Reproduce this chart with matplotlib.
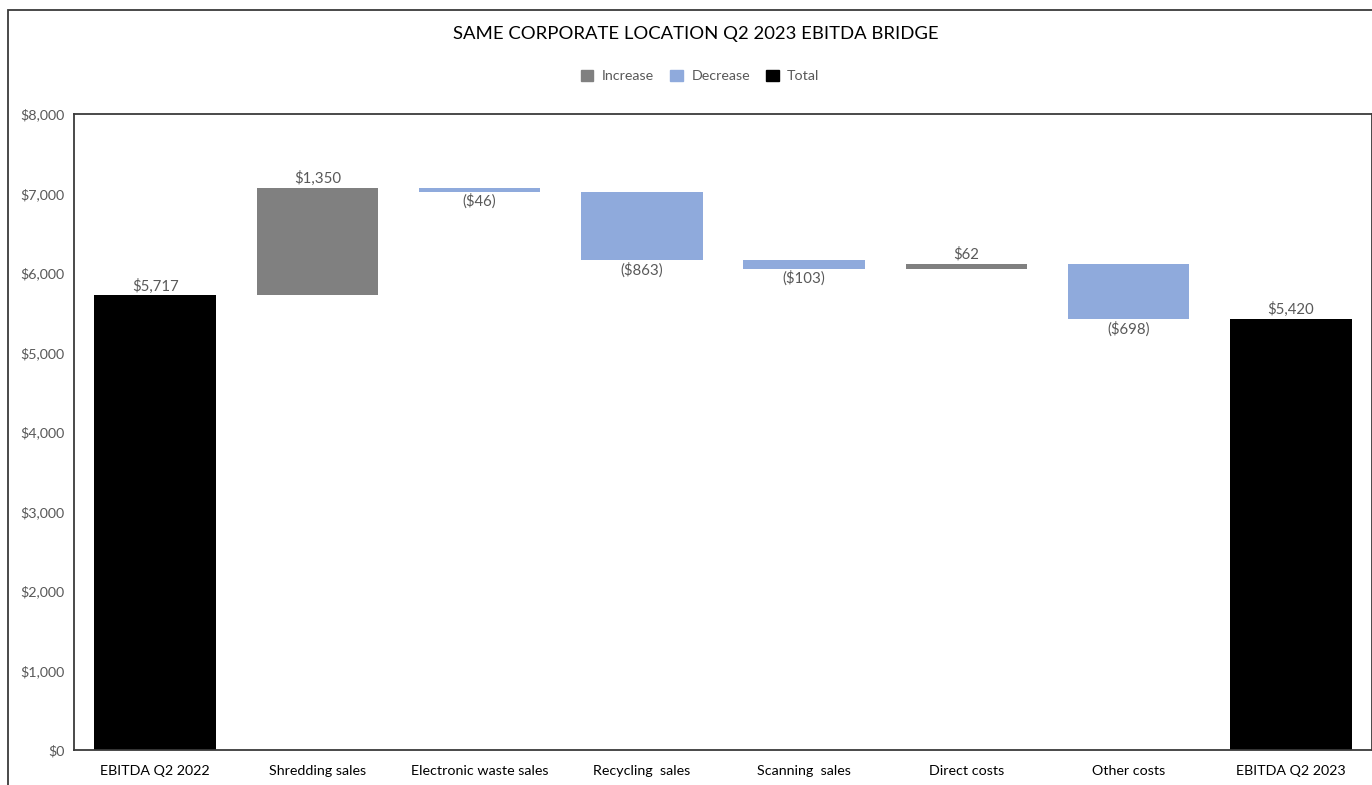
import numpy as np
import matplotlib.pyplot as plt
from matplotlib.patches import Rectangle, Patch
from matplotlib.ticker import FuncFormatter

plt.rcParams['font.family'] = ['Lato', 'DejaVu Sans']

categories = ['EBITDA Q2 2022', 'Shredding sales', 'Electronic waste sales',
              'Recycling  sales', 'Scanning  sales', 'Direct costs',
              'Other costs', 'EBITDA Q2 2023']
changes = [5717, 1350, -46, -863, -103, 62, -698, 5420]
kinds = ['total', 'inc', 'dec', 'dec', 'dec', 'inc', 'dec', 'total']

colors = {'inc': '#808080', 'dec': '#8faadc', 'total': '#000000'}
txt = '#595959'

# waterfall bottoms / heights
bottoms, heights = [], []
running = 0
for v, k in zip(changes, kinds):
    if k == 'total':
        bottoms.append(0)
        heights.append(v)
        running = v
    else:
        if v >= 0:
            bottoms.append(running)
        else:
            bottoms.append(running + v)
        heights.append(abs(v))
        running += v


def money(v):
    s = '${:,.0f}'.format(abs(v))
    return '(' + s + ')' if v < 0 else s


fig = plt.figure(figsize=(13.72, 7.85), dpi=100)
ax = fig.add_axes([74 / 1372, 1 - 750 / 785, 1 - 74 / 1372, (750 - 114) / 785])

x = np.arange(len(categories))
ax.bar(x, heights, bottom=bottoms, width=0.75,
       color=[colors[k] for k in kinds], edgecolor='none')

for i, (v, k) in enumerate(zip(changes, kinds)):
    if v >= 0:
        ax.annotate(money(v), (x[i], bottoms[i] + heights[i]), xytext=(0, 1.5),
                    textcoords='offset points', ha='center', va='bottom',
                    fontsize=10.8, color=txt)
    else:
        ax.annotate(money(v), (x[i], bottoms[i]), xytext=(0, -1.5),
                    textcoords='offset points', ha='center', va='top',
                    fontsize=10.8, color=txt)

ax.set_xlim(-0.5, len(categories) - 0.5)
ax.set_ylim(0, 8000)
ax.set_yticks(range(0, 8001, 1000))
ax.yaxis.set_major_formatter(FuncFormatter(lambda v, p: money(v)))
ax.set_xticks(x)
ax.set_xticklabels(categories)
ax.tick_params(axis='y', length=0, pad=7, labelsize=10.3, labelcolor=txt)
ax.tick_params(axis='x', length=0, pad=11, labelsize=10.3, labelcolor='#000000')
for s in ax.spines.values():
    s.set_color('#3a3a3a')
    s.set_linewidth(1.3)

fig.text(696 / 1372, 1 - 34 / 785, 'SAME CORPORATE LOCATION Q2 2023 EBITDA BRIDGE',
         ha='center', va='center', fontsize=13.3, color='#000000')

handles = [Patch(color=colors['inc'], label='Increase'),
           Patch(color=colors['dec'], label='Decrease'),
           Patch(color=colors['total'], label='Total')]
fig.legend(handles=handles, loc='center', bbox_to_anchor=(700 / 1372, 1 - 76 / 785),
           ncol=3, frameon=False, fontsize=10.3, handlelength=0.9, handleheight=0.9,
           handletextpad=0.6, columnspacing=1.1, labelcolor=txt)

fig.patches.append(Rectangle((8 / 1372, -0.1), 1.2, 1.1 - 10 / 785,
                             transform=fig.transFigure, fill=False,
                             edgecolor='#3a3a3a', linewidth=1.3))

fig.savefig('out.png', dpi=100)
